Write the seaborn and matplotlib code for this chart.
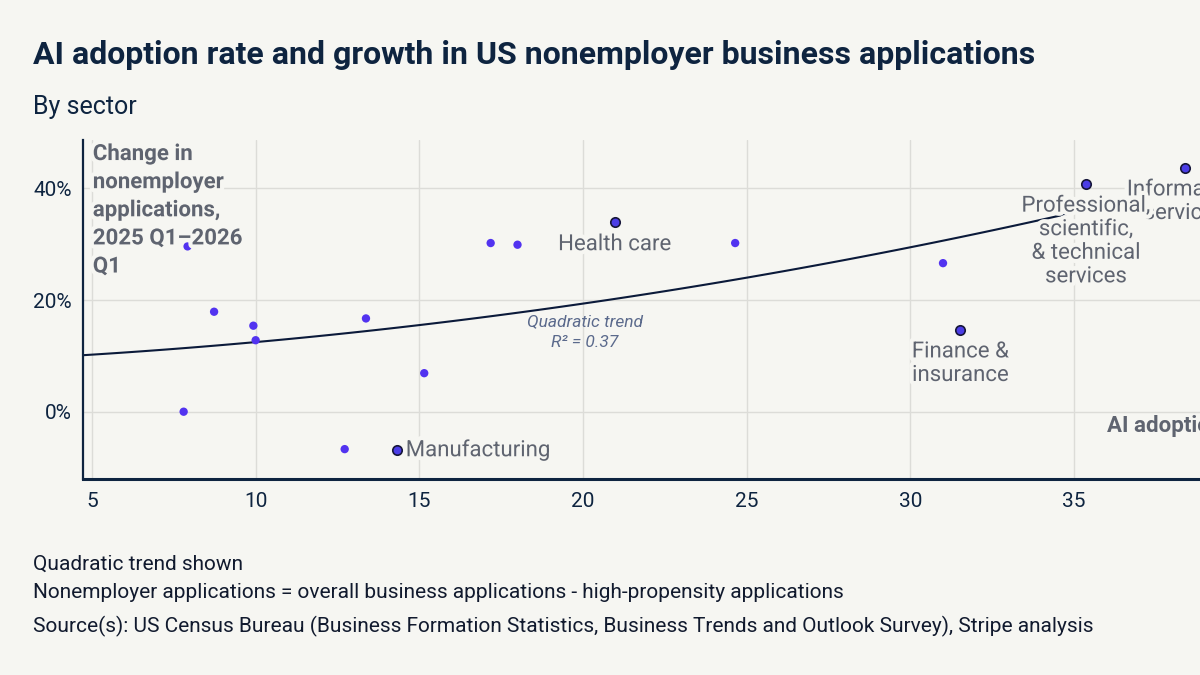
import numpy as np
import pandas as pd
import matplotlib
matplotlib.use("Agg")
import matplotlib.pyplot as plt
import matplotlib.patheffects as pe
from matplotlib.ticker import FuncFormatter
import seaborn as sns

# ---- data ----
ai_adoption = [7.92, 8.73, 9.93, 10.0, 7.80, 13.37, 12.72, 14.33, 15.15, 17.18,
               18.0, 20.97, 24.65, 31.0, 31.53, 35.37, 38.38]
app_change = [29.6, 17.9, 15.4, 12.8, 0.0, 16.7, -6.7, -6.9, 6.9, 30.2,
              29.9, 33.9, 30.2, 26.6, 14.7, 40.8, 43.7]
sector = ["", "", "", "", "", "", "", "Manufacturing", "", "",
          "", "Health care", "", "", "Finance &\ninsurance",
          "Professional,\nscientific,\n& technical\nservices",
          "Information\nservices"]
x_ticks = [5, 10, 15, 20, 25, 30, 35]
y_ticks = [0, 20, 40]
r_squared = 0.37

df = pd.DataFrame({"ai": ai_adoption, "chg": app_change, "sector": sector})
df["labeled"] = df["sector"] != ""

BG = "#F6F6F2"
NAVY = "#0E2440"
GRAY = "#5F6470"
PURPLE = "#5233F0"

sns.set_theme(style="white")
plt.rcParams["font.family"] = ["Roboto", "DejaVu Sans"]
plt.rcParams["figure.facecolor"] = BG
plt.rcParams["axes.facecolor"] = BG

fig = plt.figure(figsize=(12, 6.75), dpi=100)
px = 1 / 1200
py = 1 / 675
ax = fig.add_axes([83 * px, 1 - 478.5 * py, (1237.6 - 83) * px, (478.5 - 140) * py])
ax.set_xlim(4.725, 40)
ax.set_ylim(-11.96, 48.65)

# trend line (quadratic fit) behind the points
sns.regplot(data=df, x="ai", y="chg", order=2, ci=None, scatter=False, truncate=False,
            line_kws={"color": "#0B1A3A", "lw": 1.5, "zorder": 2}, ax=ax)

sns.scatterplot(data=df[~df["labeled"]], x="ai", y="chg", color=PURPLE, s=36,
                edgecolor="none", zorder=3, ax=ax)
sns.scatterplot(data=df[df["labeled"]], x="ai", y="chg", color="#4B3DE6", s=46,
                edgecolor="#16163A", linewidth=1.2, zorder=4, ax=ax)

halo = [pe.withStroke(linewidth=6, foreground=BG)]
order = ["Information\nservices", "Manufacturing", "Health care", "Finance &\ninsurance",
         "Professional,\nscientific,\n& technical\nservices"]
for name in order:
    row = df[df["sector"] == name].iloc[0]
    if name == "Manufacturing":
        ax.annotate(name, (row["ai"], row["chg"]), xytext=(6, 0), textcoords="offset points",
                    ha="left", va="center", fontsize=16, color=GRAY, zorder=5,
                    path_effects=halo)
    else:
        ax.annotate(name, (row["ai"], row["chg"]), xytext=(0, -8.5), textcoords="offset points",
                    ha="center", va="top", fontsize=16, color=GRAY, zorder=5,
                    linespacing=1.16, path_effects=halo)

ax.text(20.05, 14.3, f"Quadratic trend\nR² = {r_squared:.2f}", ha="center", va="center",
        fontsize=12.5, style="italic", color="#5B6A8C", zorder=5, linespacing=1.5)

ax.text(0.0085, 0.991, "Change in\nnonemployer\napplications,\n2025 Q1–2026\nQ1",
        transform=ax.transAxes, ha="left", va="top", fontsize=16, fontweight="bold",
        color=GRAY, linespacing=1.36, zorder=5, path_effects=halo)
ax.text(36.01, -3.6, "AI adoption rate", ha="left", va="baseline", fontsize=16,
        fontweight="bold", color=GRAY, zorder=5)

ax.set_xticks(x_ticks)
ax.set_yticks(y_ticks)
ax.yaxis.set_major_formatter(FuncFormatter(lambda v, _: f"{v:.0f}%"))
ax.grid(True, color="#DCDCD8", lw=1)
ax.set_axisbelow(True)
ax.tick_params(axis="both", length=0, labelsize=15, labelcolor=NAVY)
ax.tick_params(axis="x", pad=10)
ax.tick_params(axis="y", pad=8)
ax.set_xlabel("")
ax.set_ylabel("")
sns.despine(ax=ax)
ax.spines["left"].set_color(NAVY)
ax.spines["left"].set_linewidth(1.6)
ax.spines["bottom"].set_color(NAVY)
ax.spines["bottom"].set_linewidth(2.2)

fig.text(33 * px, 1 - 64.3 * py,
         "AI adoption rate and growth in US nonemployer business applications",
         ha="left", va="baseline", fontsize=23, fontweight="bold", color=NAVY)
fig.text(33 * px, 1 - 114.3 * py, "By sector", ha="left", va="baseline",
         fontsize=18, color=NAVY)

notes = ["Quadratic trend shown",
         "Nonemployer applications = overall business applications - high-propensity applications",
         "Source(s): US Census Bureau (Business Formation Statistics, Business Trends and Outlook Survey), Stripe analysis"]
for txt, base in zip(notes, [569.5, 597.5, 632.5]):
    fig.text(33 * px, 1 - base * py, txt, ha="left", va="baseline", fontsize=15, color="#111A2E")

fig.savefig("out.png", dpi=100, facecolor=BG)
